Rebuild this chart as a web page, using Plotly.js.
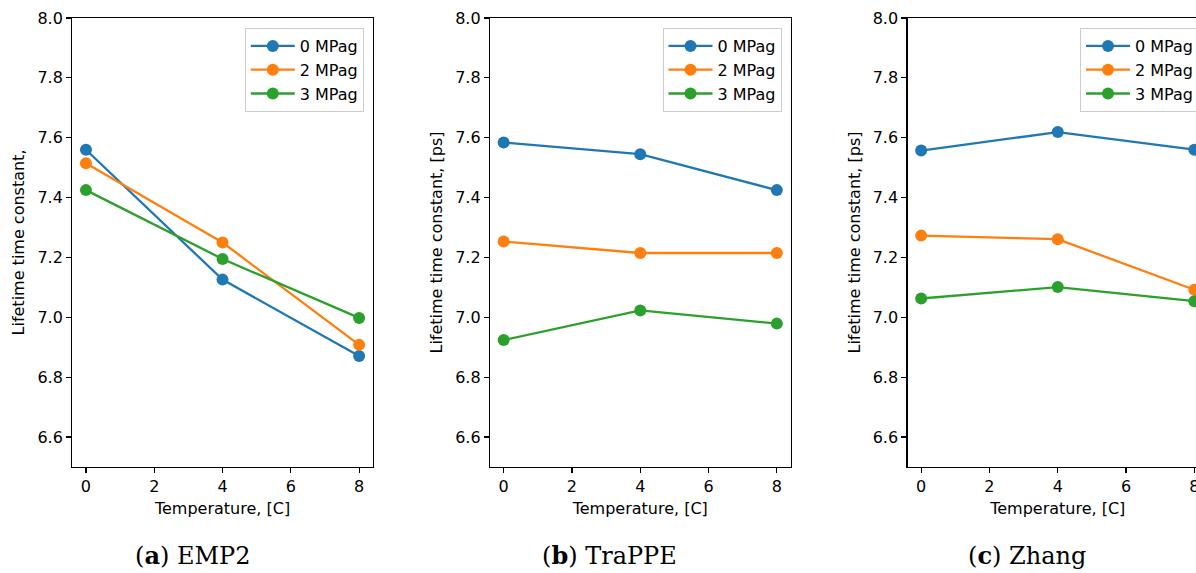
<!DOCTYPE html>
<html>
<head>
<meta charset="utf-8">
<script src="https://cdn.plot.ly/plotly-3.0.1.min.js"></script>
<style>
  html, body { margin: 0; padding: 0; overflow: hidden; background: #fff; }
  #chart { width: 1215px; height: 573px; }
</style>
</head>
<body>
<div id="chart"></div>
<script>
// ---- data ----
const temperatures = [0, 4, 8];
const seriesNames = ['0 MPag', '2 MPag', '3 MPag'];
const seriesColors = ['#1f77b4', '#ff7f0e', '#2ca02c'];

const emp2_0MPag = [7.560, 7.126, 6.871];
const emp2_2MPag = [7.515, 7.250, 6.908];
const emp2_3MPag = [7.425, 7.195, 6.998];

const trappe_0MPag = [7.584, 7.545, 7.425];
const trappe_2MPag = [7.253, 7.215, 7.215];
const trappe_3MPag = [6.924, 7.023, 6.979];

const zhang_0MPag = [7.557, 7.619, 7.560];
const zhang_2MPag = [7.273, 7.261, 7.092];
const zhang_3MPag = [7.063, 7.101, 7.054];

const xTickVals = [0, 2, 4, 6, 8];
const yTickVals = [6.6, 6.8, 7.0, 7.2, 7.4, 7.6, 7.8, 8.0];
const xTitle = 'Temperature, [C]';
const yTitles = ['Lifetime time constant,', 'Lifetime time constant, [ps]', 'Lifetime time constant, [ps]'];
const captions = ['(<b>a</b>) EMP2', '(<b>b</b>) TraPPE', '(<b>c</b>) Zhang'];

const panels = [
  [emp2_0MPag, emp2_2MPag, emp2_3MPag],
  [trappe_0MPag, trappe_2MPag, trappe_3MPag],
  [zhang_0MPag, zhang_2MPag, zhang_3MPag]
];

// ---- layout geometry (pixels) ----
const W = 1215, H = 573;
const plotLefts = [72.3, 490.0, 907.5];
const plotW = 300.5;
const plotTop = 18, plotBottom = 467;
const captionCenters = [192, 609, 1027];
const captionY = 555;

const font = 'DejaVu Sans, sans-serif';
const traces = [];
const layout = {
  width: W, height: H,
  margin: {l: 0, r: 0, t: 0, b: 0, pad: 0},
  paper_bgcolor: '#fff', plot_bgcolor: '#fff',
  font: {family: font, size: 16, color: '#000'},
  showlegend: true,
  annotations: []
};

panels.forEach((series, p) => {
  const suf = p === 0 ? '' : String(p + 1);
  const legendName = 'legend' + suf;
  series.forEach((vals, i) => {
    traces.push({
      type: 'scatter', mode: 'lines+markers',
      x: temperatures, y: vals,
      name: seriesNames[i],
      xaxis: 'x' + suf, yaxis: 'y' + suf,
      legend: legendName,
      line: {color: seriesColors[i], width: 2.3},
      marker: {color: seriesColors[i], size: 12},
      hoverinfo: 'x+y+name'
    });
  });
  const left = plotLefts[p] / W, right = (plotLefts[p] + plotW) / W;
  const axCommon = {
    showline: true, mirror: true, linecolor: '#000', linewidth: 1.2,
    ticks: 'outside', ticklen: 5, tickwidth: 1.2, tickcolor: '#000',
    showgrid: false, zeroline: false,
    tickfont: {family: font, size: 16, color: '#000'}
  };
  layout['xaxis' + suf] = Object.assign({}, axCommon, {
    domain: [left, right],
    anchor: 'y' + suf,
    range: [-0.4, 8.4],
    tickmode: 'array', tickvals: xTickVals,
    title: {text: xTitle, font: {family: font, size: 16, color: '#000'}, standoff: 7}
  });
  layout['yaxis' + suf] = Object.assign({}, axCommon, {
    domain: [1 - plotBottom / H, 1 - plotTop / H],
    anchor: 'x' + suf,
    range: [6.5, 8.0],
    tickmode: 'array', tickvals: yTickVals, tickformat: '.1f',
    title: {text: yTitles[p], font: {family: font, size: 16, color: '#000'}, standoff: 8}
  });
  layout[legendName] = {
    x: (plotLefts[p] + plotW - 9) / W, xanchor: 'right',
    y: 1 - 28 / H, yanchor: 'top',
    bgcolor: 'rgba(255,255,255,0.85)',
    bordercolor: '#cccccc', borderwidth: 1,
    font: {family: font, size: 16, color: '#000'},
    itemwidth: 44
  };
  layout.annotations.push({
    text: captions[p],
    xref: 'paper', yref: 'paper',
    x: captionCenters[p] / W, y: 1 - captionY / H,
    xanchor: 'center', yanchor: 'middle',
    showarrow: false,
    font: {family: 'DejaVu Serif, serif', size: 24, color: '#000'}
  });
});

Plotly.newPlot('chart', traces, layout, {displayModeBar: false, staticPlot: true});
</script>
</body>
</html>
